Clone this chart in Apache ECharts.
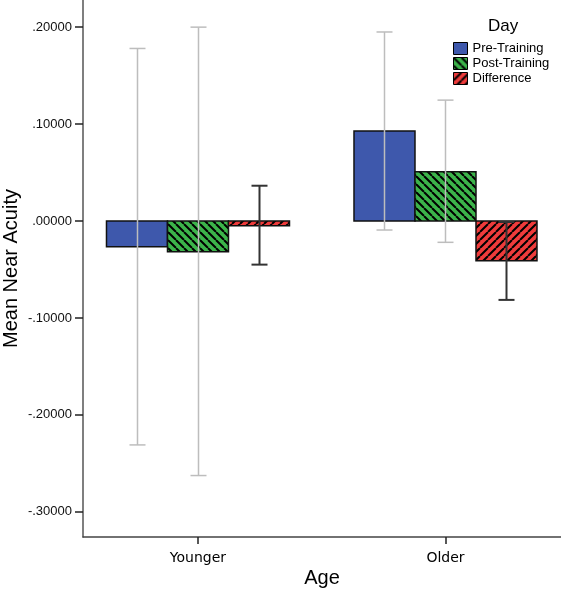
<!DOCTYPE html>
<html>
<head>
<meta charset="utf-8">
<script src="https://cdn.jsdelivr.net/npm/echarts@6/dist/echarts.min.js"></script>
<style>html,body{margin:0;padding:0;background:#fff;}#c{width:561px;height:600px;}</style>
</head>
<body>
<div id="c"></div>
<script>
// ---- data ----
const categories = ['Younger', 'Older'];
const seriesNames = ['Pre-Training', 'Post-Training', 'Difference'];
const preMeans  = [-0.0265, 0.0928];
const postMeans = [-0.0316, 0.0508];
const diffMeans = [-0.0048, -0.0410];
const preLow   = [-0.231, -0.0093];
const preHigh  = [0.178, 0.195];
const postLow  = [-0.2626, -0.022];
const postHigh = [0.200, 0.1247];
const diffLow  = [-0.045, -0.0814];
const diffHigh = [0.0364, -0.001];
const yTicks = [-0.3, -0.2, -0.1, 0, 0.1, 0.2];

// ---- styling helpers ----
function hatch(bg, dir) {
  const s = 8;
  const cv = document.createElement('canvas');
  cv.width = s; cv.height = s;
  const ctx = cv.getContext('2d');
  ctx.fillStyle = bg; ctx.fillRect(0, 0, s, s);
  ctx.strokeStyle = '#000'; ctx.lineWidth = 2;
  ctx.beginPath();
  for (const o of [-s, 0, s]) {
    if (dir === 'back') { ctx.moveTo(o, 0); ctx.lineTo(o + s, s); }
    else { ctx.moveTo(o, s); ctx.lineTo(o + s, 0); }
  }
  ctx.stroke();
  return { image: cv, repeat: 'repeat' };
}
const fills = ['#3e58ac', hatch('#3cb44a', 'back'), hatch('#ef3b3b', 'fwd')];
const errColors = ['#bdbdbd', '#bdbdbd', '#333'];
const errWidths = [1.5, 1.5, 2];
const BAR_FRAC = 61 / 247.5;
const CAP = 8;
const FONT = 'Liberation Sans, Arial, sans-serif';

const meansAll = [preMeans, postMeans, diffMeans];
const lowAll = [preLow, postLow, diffLow];
const highAll = [preHigh, postHigh, diffHigh];

function barRender(k) {
  return function (params, api) {
    const c = api.value(0) + (k - 1) * BAR_FRAC;
    const pTop = api.coord([c - BAR_FRAC / 2, api.value(1)]);
    const pBase = api.coord([c + BAR_FRAC / 2, 0]);
    return {
      type: 'rect',
      shape: { x: pTop[0], y: Math.min(pTop[1], pBase[1]), width: pBase[0] - pTop[0], height: Math.abs(pBase[1] - pTop[1]) },
      style: { fill: fills[k], stroke: '#111', lineWidth: 1.5 }
    };
  };
}
function errRender(k) {
  return function (params, api) {
    const c = api.value(0) + (k - 1) * BAR_FRAC;
    const lo = api.coord([c, api.value(1)]);
    const hi = api.coord([c, api.value(2)]);
    const x = Math.round(lo[0]) + 0.5;
    const st = { stroke: errColors[k], lineWidth: errWidths[k] };
    return {
      type: 'group',
      children: [
        { type: 'line', shape: { x1: x, y1: lo[1], x2: x, y2: hi[1] }, style: st },
        { type: 'line', shape: { x1: x - CAP, y1: lo[1], x2: x + CAP, y2: lo[1] }, style: st },
        { type: 'line', shape: { x1: x - CAP, y1: hi[1], x2: x + CAP, y2: hi[1] }, style: st }
      ]
    };
  };
}

const series = [];
for (let k = 0; k < 3; k++) {
  series.push({
    name: seriesNames[k], type: 'custom', z: 2,
    itemStyle: { color: fills[k], borderColor: '#000', borderWidth: 1 },
    renderItem: barRender(k),
    encode: { x: 0, y: 1 },
    data: categories.map((c, i) => [i, meansAll[k][i]])
  });
}
for (let k = 0; k < 3; k++) {
  series.push({
    type: 'custom', z: 3, silent: true,
    renderItem: errRender(k),
    encode: { x: 0, y: [1, 2] },
    data: categories.map((c, i) => [i, lowAll[k][i], highAll[k][i]])
  });
}

function fmtY(v) {
  let s = Math.abs(v).toFixed(5).replace(/^0/, '');
  return (v < -1e-9 ? '-' : '') + s;
}

const chart = echarts.init(document.getElementById('c'), null, { renderer: 'canvas' });
chart.setOption({
  animation: false,
  backgroundColor: '#fff',
  textStyle: { fontFamily: FONT },
  title: {
    text: 'Day', left: 488, top: 18, padding: 0,
    textStyle: { fontSize: 17, fontWeight: 'normal', color: '#000', fontFamily: FONT }
  },
  legend: {
    orient: 'vertical', left: 453, top: 42, padding: 0, itemGap: 2,
    itemWidth: 14, itemHeight: 12,
    textStyle: { fontSize: 13, color: '#000', lineHeight: 13, fontFamily: FONT },
    data: seriesNames.map((n, i) => ({ name: n, icon: 'rect', itemStyle: { color: fills[i], borderColor: '#000', borderWidth: 1 } }))
  },
  grid: { left: 83, right: 0, top: 0, bottom: 63, containLabel: false, outerBoundsMode: 'none' },
  xAxis: {
    type: 'value', min: -0.4646, max: 1.4667,
    name: 'Age', nameLocation: 'middle', nameGap: 31, nameMoveOverlap: false,
    nameTextStyle: { fontSize: 20, color: '#000', fontFamily: FONT },
    axisLine: { show: true, onZero: false, lineStyle: { color: '#444', width: 1.5 } },
    axisTick: { show: true, customValues: [0, 1], length: 7, lineStyle: { color: '#222', width: 1.5 } },
    axisLabel: {
      customValues: [0, 1], margin: 14, fontSize: 14, color: '#000',
      fontFamily: 'DejaVu Sans, sans-serif',
      formatter: v => categories[Math.round(v)]
    },
    splitLine: { show: false }
  },
  yAxis: {
    type: 'value', min: -0.326, max: 0.228,
    name: 'Mean Near Acuity', nameLocation: 'middle', nameGap: 62, nameRotate: 90, nameMoveOverlap: false,
    nameTextStyle: { fontSize: 20, color: '#000', fontFamily: FONT },
    axisLine: { show: true, onZero: false, lineStyle: { color: '#555', width: 1.5 } },
    axisTick: { show: true, customValues: yTicks, length: 8, lineStyle: { color: '#222', width: 1.5 } },
    axisLabel: { customValues: yTicks, margin: 11, fontSize: 13, color: '#111', formatter: fmtY },
    splitLine: { show: false }
  },
  series: series
});
</script>
</body>
</html>
